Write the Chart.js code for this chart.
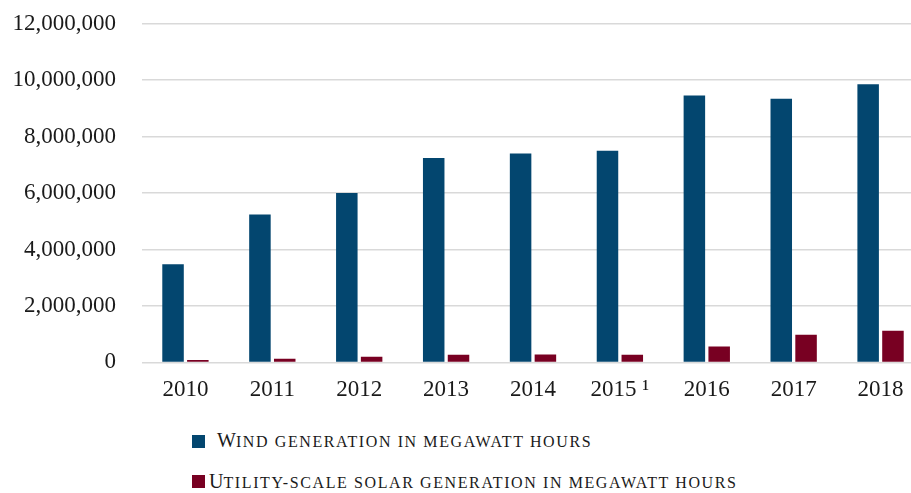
<!DOCTYPE html>
<html>
<head>
<meta charset="utf-8">
<script src="https://cdn.jsdelivr.net/npm/chart.js@4"></script>
<style>
  html, body { margin: 0; padding: 0; background: #fff; overflow: hidden; }
  #wrap { position: absolute; left: 0; top: -16px; width: 925px; height: 434px; }
  .leg { position: absolute; font-family: "Liberation Serif", serif; font-size: 20px;
         line-height: 20px; color: #1a1a1a; white-space: nowrap; }
  .leg span { font-size: 16px; text-transform: uppercase; letter-spacing: 1.6px; }
  .box { position: absolute; width: 13px; height: 13px; }
</style>
</head>
<body>
<div id="wrap"><canvas id="grafico"></canvas></div>
<div class="box" style="left:192px; top:435px; background:#03466f;"></div>
<div class="leg" id="leg1" style="left:217px; top:430px;"></div>
<div class="box" style="left:192px; top:475px; background:#780022;"></div>
<div class="leg" id="leg2" style="left:209px; top:471px;"></div>
<script>
const anios = ['2010', '2011', '2012', '2013', '2014', '2015 \u00b9', '2016', '2017', '2018'];
const eolica = [3480000, 5240000, 6000000, 7240000, 7400000, 7500000, 9460000, 9340000, 9860000];
const solar = [85000, 130000, 200000, 270000, 280000, 270000, 565000, 980000, 1120000];
const nombreEolica = 'Wind generation in megawatt hours';
const nombreSolar = 'Utility-scale solar generation in megawatt hours';

// versalitas a mano: primera letra grande, el resto en mayusculas pequeñas
function versalitas(el, texto) {
  el.textContent = texto[0];
  const resto = document.createElement('span');
  resto.textContent = texto.slice(1);
  el.appendChild(resto);
}
versalitas(document.getElementById('leg1'), nombreEolica);
versalitas(document.getElementById('leg2'), nombreSolar);

const fuente = { family: '"Liberation Serif", serif', size: 23 };

new Chart(document.getElementById('grafico').getContext('2d'), {
  type: 'bar',
  data: {
    labels: anios,
    datasets: [
      { label: nombreEolica, data: eolica, backgroundColor: '#03466f' },
      { label: nombreSolar, data: solar, backgroundColor: '#780022' }
    ]
  },
  options: {
    responsive: true,
    maintainAspectRatio: false,
    animation: false,
    categoryPercentage: 0.571,
    barPercentage: 0.867,
    layout: { padding: { top: 10, right: 1, left: 0, bottom: 0 } },
    plugins: {
      legend: { display: false },
      tooltip: { enabled: false }
    },
    scales: {
      x: {
        grid: { display: false, drawTicks: false },
        border: { display: false },
        ticks: { color: '#1a1a1a', font: fuente, padding: 14, maxRotation: 0 }
      },
      y: {
        min: 0,
        max: 12000000,
        ticks: {
          stepSize: 2000000,
          color: '#1a1a1a',
          font: fuente,
          padding: 26,
          callback: v => v.toLocaleString('en-US')
        },
        grid: { color: '#d9d9d9', lineWidth: 1.5, drawTicks: false },
        border: { display: false },
        afterFit: s => { s.width = 142; }
      }
    }
  }
});
</script>
</body>
</html>
